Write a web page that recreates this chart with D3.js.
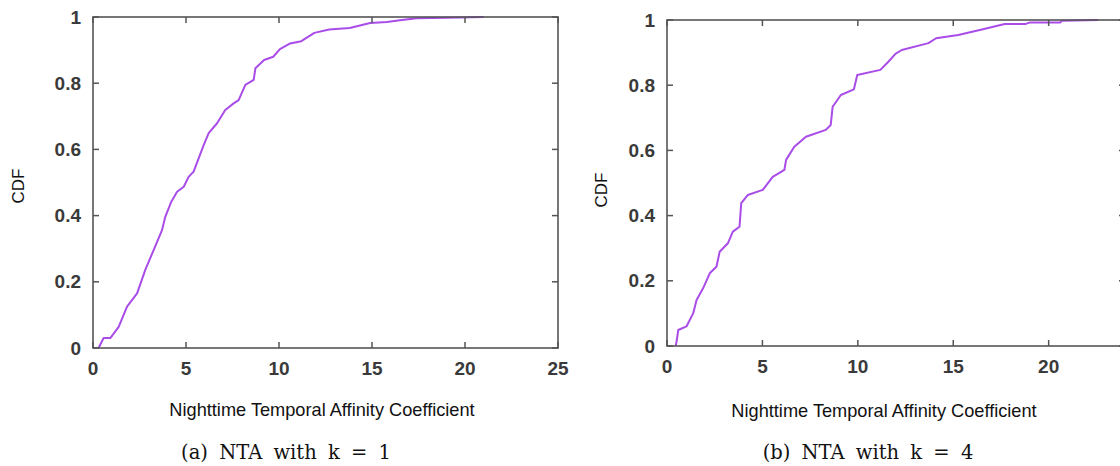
<!DOCTYPE html>
<html>
<head>
<meta charset="utf-8">
<script src="https://cdn.jsdelivr.net/npm/d3@7"></script>
<style>
  body { margin: 0; background: #fff; }
  svg { display: block; }
</style>
</head>
<body>
<div id="vis"></div>
<script>
// two CDF panels side by side

const FRAME_WIDTH = 1120;
const FRAME_HEIGHT = 466;

// tick labels
const Y_TICKS = [0, 0.2, 0.4, 0.6, 0.8, 1];
const X_TICKS_A = [0, 5, 10, 15, 20, 25];
const X_TICKS_B = [0, 5, 10, 15, 20];

// (a) k = 1
const K1_X = [0.3, 0.57, 0.93, 1.38, 1.83, 2.37, 2.81, 3.26, 3.71, 3.89, 4.21, 4.52, 4.88, 5.14,
              5.41, 5.68, 5.95, 6.22, 6.67, 7.11, 7.56, 7.83, 8.19, 8.64, 8.73, 9.2, 9.69, 10.05,
              10.6, 11.2, 11.9, 12.7, 13.8, 14.9, 15.8, 16.5, 17.4, 19.0, 21.0];
const K1_Y = [0, 0.03, 0.03, 0.064, 0.125, 0.165, 0.236, 0.296, 0.356, 0.397, 0.442, 0.472, 0.487, 0.517,
              0.533, 0.573, 0.613, 0.649, 0.679, 0.719, 0.739, 0.749, 0.795, 0.81, 0.845, 0.87, 0.88, 0.903,
              0.92, 0.927, 0.952, 0.962, 0.967, 0.982, 0.985, 0.99, 0.996, 0.998, 1.0];

// (b) k = 4
const K4_X = [0.45, 0.5, 0.59, 1.02, 1.37, 1.55, 1.89, 2.24, 2.59, 2.76, 3.19, 3.45, 3.8, 3.89, 4.23,
              5.02, 5.54, 6.15, 6.24, 6.67, 7.28, 8.32, 8.58, 8.68, 9.11, 9.79, 9.97, 11.18, 11.6,
              11.97, 12.3, 13.7, 14.1, 15.26, 16.5, 17.7, 18.8, 19.0, 20.6, 20.7, 22.6];
const K4_Y = [0, 0.013, 0.049, 0.06, 0.1, 0.141, 0.177, 0.223, 0.243, 0.289, 0.315, 0.351, 0.366, 0.438, 0.463,
              0.479, 0.519, 0.54, 0.571, 0.611, 0.642, 0.663, 0.678, 0.734, 0.77, 0.787, 0.831, 0.847, 0.872,
              0.896, 0.908, 0.929, 0.944, 0.954, 0.971, 0.988, 0.988, 0.992, 0.992, 0.998, 1.0];

const X_TITLE = "Nighttime Temporal Affinity Coefficient";

const SVG = d3.select("#vis")
              .append("svg")
              .attr("width", FRAME_WIDTH)
              .attr("height", FRAME_HEIGHT);

SVG.append("rect").attr("width", FRAME_WIDTH).attr("height", FRAME_HEIGHT).attr("fill", "#fff");

function drawPanel(p) {
  const X_SCALE = d3.scaleLinear().domain(p.xDomain).range([p.left, p.right]);
  const Y_SCALE = d3.scaleLinear().domain([0, 1]).range([p.bottom, p.top]);
  const g = SVG.append("g");
  const TICK = 6;

  // curve
  const pts = p.xs.map((x, i) => [x, p.ys[i]]);
  g.append("path")
    .datum(pts)
    .attr("d", d3.line().x(d => X_SCALE(d[0])).y(d => Y_SCALE(d[1])))
    .attr("fill", "none")
    .attr("stroke", "#a94ce8")
    .attr("stroke-width", 2)
    .attr("stroke-linejoin", "round");

  // frame
  g.append("rect")
    .attr("x", p.left).attr("y", p.top)
    .attr("width", p.right - p.left).attr("height", p.bottom - p.top)
    .attr("fill", "none").attr("stroke", "#555").attr("stroke-width", 1.6);

  // y ticks (both sides) and labels
  Y_TICKS.forEach(t => {
    const y = Y_SCALE(t);
    g.append("line").attr("x1", p.left).attr("x2", p.left + TICK).attr("y1", y).attr("y2", y)
      .attr("stroke", "#555").attr("stroke-width", 1.5);
    g.append("line").attr("x1", p.right).attr("x2", p.right - TICK).attr("y1", y).attr("y2", y)
      .attr("stroke", "#555").attr("stroke-width", 1.5);
    g.append("text")
      .attr("x", p.left - 12).attr("y", y)
      .attr("text-anchor", "end").attr("dominant-baseline", "central")
      .attr("font-family", "Liberation Sans, Arial, sans-serif")
      .attr("font-weight", "bold").attr("font-size", 19).attr("fill", "#3a3a3a")
      .text(d3.format("~g")(t));
  });

  // x ticks (both sides) and labels
  p.xTicks.forEach(t => {
    const x = X_SCALE(t);
    g.append("line").attr("x1", x).attr("x2", x).attr("y1", p.bottom).attr("y2", p.bottom - TICK)
      .attr("stroke", "#555").attr("stroke-width", 1.5);
    g.append("line").attr("x1", x).attr("x2", x).attr("y1", p.top).attr("y2", p.top + TICK)
      .attr("stroke", "#555").attr("stroke-width", 1.5);
    g.append("text")
      .attr("x", x).attr("y", p.bottom + 20)
      .attr("text-anchor", "middle").attr("dominant-baseline", "central")
      .attr("font-family", "Liberation Sans, Arial, sans-serif")
      .attr("font-weight", "bold").attr("font-size", 19).attr("fill", "#3a3a3a")
      .text(t);
  });

  // axis titles
  g.append("text")
    .attr("transform", "translate(" + p.yTitleX + "," + p.yTitleY + ") rotate(-90)")
    .attr("text-anchor", "middle").attr("dominant-baseline", "central")
    .attr("font-family", "Liberation Sans, Arial, sans-serif")
    .attr("font-size", 17).attr("fill", "#111")
    .text("CDF");

  g.append("text")
    .attr("x", p.xTitleX).attr("y", p.xTitleY)
    .attr("text-anchor", "middle").attr("dominant-baseline", "central")
    .attr("font-family", "Liberation Sans, Arial, sans-serif")
    .attr("font-size", 18.2).attr("fill", "#111")
    .text(X_TITLE);

  // caption
  g.append("text")
    .attr("x", p.capX).attr("y", 459)
    .attr("text-anchor", "middle")
    .attr("font-family", "DejaVu Serif, Liberation Serif, serif")
    .attr("font-size", 19.5).attr("fill", "#111")
    .attr("word-spacing", 5)
    .text(p.caption);
}

drawPanel({
  xs: K1_X, ys: K1_Y, xDomain: [0, 25], xTicks: X_TICKS_A,
  left: 93, right: 558, top: 17, bottom: 348,
  yTitleX: 18, yTitleY: 186, xTitleX: 322, xTitleY: 410,
  capX: 286, caption: "(a) NTA with k = 1"
});

drawPanel({
  xs: K4_X, ys: K4_Y, xDomain: [0, 24], xTicks: X_TICKS_B,
  left: 667, right: 1125, top: 20, bottom: 346,
  yTitleX: 601, yTitleY: 190, xTitleX: 884, xTitleY: 411,
  capX: 868, caption: "(b) NTA with k = 4"
});
</script>
</body>
</html>
